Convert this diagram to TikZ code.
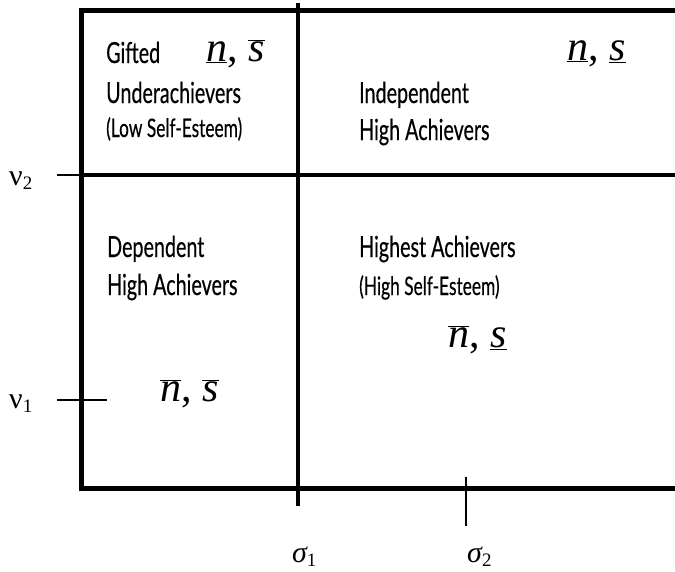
\documentclass[tikz,border=0pt]{standalone}
\usepackage{fontspec}
\setmainfont{Liberation Serif}
\newfontfamily\lblfont[FakeStretch=0.68,FakeBold=0.4]{Lato}
\newfontfamily\symf{Liberation Serif}
\newcommand\ulv[1]{$\underline{\hbox{\symf\itshape #1}}$}
\newcommand\olv[1]{$\overline{\hbox{\symf\itshape #1}}$}
\begin{document}
\begin{tikzpicture}[x=1pt,y=-1pt,
  lbl/.style={inner sep=0pt, anchor=base west, font=\lblfont\fontsize{29}{32}\selectfont},
  slbl/.style={inner sep=0pt, anchor=base west, font=\lblfont\fontsize{25.5}{28}\selectfont},
  mth/.style={inner sep=0pt, anchor=base west, font=\symf\fontsize{42}{46}\selectfont},
  axl/.style={inner sep=0pt, anchor=base west, font=\symf\fontsize{30}{34}\selectfont},
  thick border/.style={line width=5pt, line join=miter},
  divider/.style={line width=4pt},
  tick/.style={line width=1.5pt}]
\useasboundingbox (0,0) rectangle (675,571);
% frame
\coordinate (tr) at (675,10);
\coordinate (tl) at (81,10);
\coordinate (bl) at (81,488);
\coordinate (br) at (675,488);
\draw[thick border] (tr) -- (tl) -- (bl) -- (br);
% dividers
\coordinate (vt) at (298,3);
\coordinate (vb) at (298,506);
\draw[divider] (vt) -- (vb);
\coordinate (hl) at (81,175);
\coordinate (hr) at (675,175);
\draw[divider] (hl) -- (hr);
% ticks
\coordinate (n2a) at (57,175);
\draw[tick] (n2a) -- (hl);
\coordinate (n1a) at (57,400);
\coordinate (n1b) at (107,400);
\draw[tick] (n1a) -- (n1b);
\coordinate (s2a) at (466,477);
\coordinate (s2b) at (466,526);
\draw[tick] (s2a) -- (s2b);
% axis labels
\node[axl] (nu2) at (9,185) {ν\raisebox{-0.3ex}{\fontsize{19}{20}\selectfont 2}};
\node[axl] (nu1) at (9,408) {ν\raisebox{-0.3ex}{\fontsize{19}{20}\selectfont 1}};
\node[axl] (sig1) at (292,562) {\itshape σ\raisebox{-0.3ex}{\upshape\fontsize{19}{20}\selectfont 1}};
\node[axl] (sig2) at (467,562) {\itshape σ\raisebox{-0.3ex}{\upshape\fontsize{19}{20}\selectfont 2}};
% upper left
\node[lbl] (gifted) at (106,63) {Gifted};
\node[lbl] (under) at (106,103) {Underachievers};
\node[slbl] (low) at (106,137) {(Low Self-Esteem)};
\node[mth] (mul) at (206,61) {\ulv{n}, \olv{s}};
% upper right
\node[lbl] (indep) at (359,103) {Independent};
\node[lbl] (iha) at (359,140) {High Achievers};
\node[mth] (mur) at (567,60) {\ulv{n}, \ulv{s}};
% lower left
\node[lbl] (dep) at (107,257) {Dependent};
\node[lbl] (dha) at (107,295) {High Achievers};
\node[mth] (mll) at (160,401) {\olv{n}, \olv{s}};
% lower right
\node[lbl] (hst) at (359,257) {Highest Achievers};
\node[slbl] (high) at (359,295) {(High Self-Esteem)};
\node[mth] (mlr) at (448,347) {\olv{n}, \ulv{s}};
\end{tikzpicture}
\end{document}
